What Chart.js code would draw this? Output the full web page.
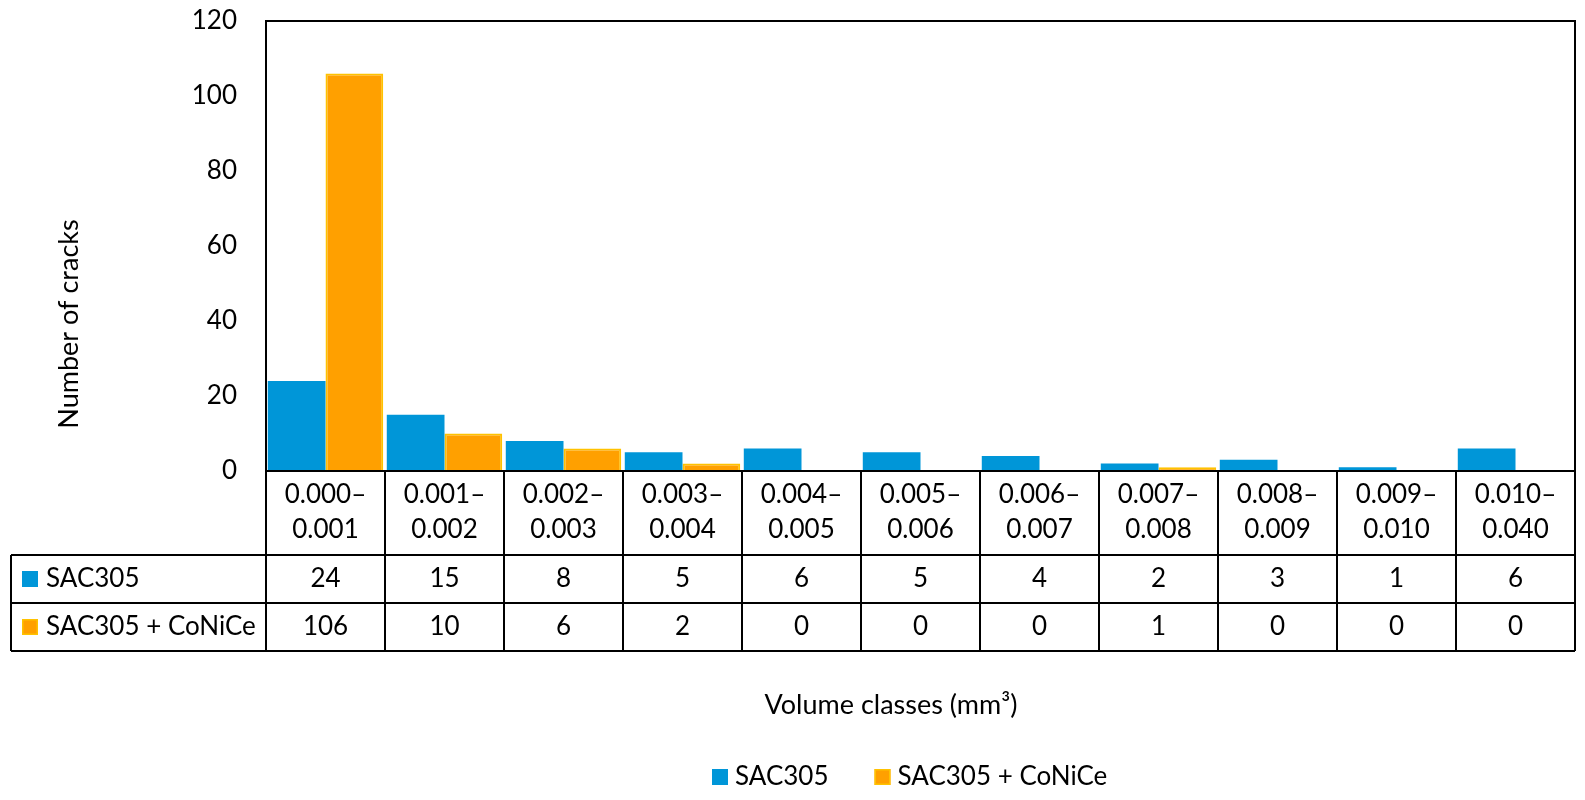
<!DOCTYPE html>
<html>
<head>
<meta charset="utf-8">
<script src="https://cdn.jsdelivr.net/npm/chart.js@4"></script>
<style>
  html, body { margin: 0; padding: 0; background: #fff; }
  #wrap { width: 1585px; height: 800px; }
</style>
</head>
<body>
<div id="wrap"><canvas id="chart"></canvas></div>
<script>
// volume classes, one column of the table each
var classes = [
    ['0.000–', '0.001'], ['0.001–', '0.002'], ['0.002–', '0.003'], ['0.003–', '0.004']
  , ['0.004–', '0.005'], ['0.005–', '0.006'], ['0.006–', '0.007'], ['0.007–', '0.008']
  , ['0.008–', '0.009'], ['0.009–', '0.010'], ['0.010–', '0.040']
]
var sac305       = [24, 15, 8, 5, 6, 5, 4, 2, 3, 1, 6]
var sac305CoNiCe = [106, 10, 6, 2, 0, 0, 0, 1, 0, 0, 0]
var yTicks = [0, 20, 40, 60, 80, 100, 120]
var seriesNames = ['SAC305', 'SAC305 + CoNiCe']
var xTitle = 'Volume classes (mm³)'
var yTitle = 'Number of cracks'

var blue = '#0096D8'
var orange = '#FFA000'
var orangeEdge = '#FFC200'
var FAMILY = 'Lato, "Liberation Sans", sans-serif'
var FONT = '26px ' + FAMILY
var TITLE_FONT = '27px ' + FAMILY

function swatch(ctx, i, x, y) {
  ctx.fillStyle = i === 0 ? blue : orange
  ctx.fillRect(x, y, 16, 16)
  if (i === 1) {
    ctx.strokeStyle = orangeEdge
    ctx.lineWidth = 1.5
    ctx.strokeRect(x + 0.75, y + 0.75, 14.5, 14.5)
  }
}

// frame round the plot, the data table under it, titles and legend
var tablePlugin = {
  id: 'dataTable',
  afterDraw: function(chart) {
    var ctx = chart.ctx
    var area = chart.chartArea
    var xs = chart.scales.x
    var colW = area.width / classes.length
    var rows = [area.bottom, area.bottom + 84, area.bottom + 132, area.bottom + 180]
    var tableLeft = 11
    var values = [sac305, sac305CoNiCe]

    ctx.save()
    ctx.strokeStyle = '#000'
    ctx.lineWidth = 2
    ctx.beginPath()
    // plot frame
    ctx.moveTo(area.left, rows[0]); ctx.lineTo(area.left, area.top)
    ctx.lineTo(area.right, area.top); ctx.lineTo(area.right, rows[3])
    // horizontal table lines
    ctx.moveTo(area.left, rows[0]); ctx.lineTo(area.right, rows[0])
    for (var r = 1; r < 4; r++) { ctx.moveTo(tableLeft, rows[r]); ctx.lineTo(area.right, rows[r]) }
    // vertical table lines
    ctx.moveTo(tableLeft, rows[1]); ctx.lineTo(tableLeft, rows[3])
    for (var c = 0; c < classes.length; c++) {
      var bx = xs.getPixelForValue(c) - colW / 2
      ctx.moveTo(bx, rows[0]); ctx.lineTo(bx, rows[3])
    }
    ctx.stroke()

    ctx.fillStyle = '#000'
    ctx.font = FONT
    ctx.textAlign = 'center'
    ctx.textBaseline = 'middle'
    classes.forEach(function(lbl, i) {
      var cx = xs.getPixelForValue(i)
      ctx.fillText(lbl[0], cx, rows[0] + 24)
      ctx.fillText(lbl[1], cx, rows[0] + 59)
      values.forEach(function(v, s) {
        ctx.fillText(String(v[i]), cx, (rows[s + 1] + rows[s + 2]) / 2)
      })
    })
    seriesNames.forEach(function(name, s) {
      var cy = (rows[s + 1] + rows[s + 2]) / 2
      swatch(ctx, s, 22, cy - 8)
      ctx.fillStyle = '#000'
      ctx.textAlign = 'left'
      ctx.fillText(name, 46, cy)
    })

    // axis titles
    ctx.font = TITLE_FONT
    ctx.textAlign = 'center'
    ctx.fillText(xTitle, 891, 705)
    ctx.save()
    ctx.translate(69, 324)
    ctx.rotate(-Math.PI / 2)
    ctx.fillText(yTitle, 0, 0)
    ctx.restore()

    // legend
    ctx.font = FONT
    ctx.textAlign = 'left'
    var lx = 712
    var ly = 777
    seriesNames.forEach(function(name, s) {
      swatch(ctx, s, lx, ly - 8)
      ctx.fillStyle = '#000'
      ctx.fillText(name, lx + 23, ly)
      lx += 23 + ctx.measureText(name).width + 46
    })
    ctx.restore()
  }
}

new Chart(document.getElementById('chart'), {
  type: 'bar',
  data: {
    labels: classes,
    datasets: [
      { label: seriesNames[0], data: sac305, backgroundColor: blue, borderWidth: 0 },
      { label: seriesNames[1], data: sac305CoNiCe, backgroundColor: orange,
        borderColor: orangeEdge, borderWidth: 2 }
    ]
  },
  options: {
    responsive: true,
    maintainAspectRatio: false,
    animation: false,
    datasets: { bar: { categoryPercentage: 0.97, barPercentage: 1.0 } },
    layout: { padding: { top: 21, right: 10, bottom: 329, left: 10 } },
    plugins: { legend: { display: false }, tooltip: { enabled: false } },
    scales: {
      x: { display: false },
      y: {
        min: 0, max: 120,
        afterFit: function(s) { s.width = 256; s.paddingTop = 14; s.paddingBottom = 14 },
        afterBuildTicks: function(s) { s.ticks = yTicks.map(function(v) { return { value: v } }) },
        grid: { display: false, drawTicks: false },
        border: { display: true, color: '#000', width: 2 },
        ticks: { padding: 29, color: '#000', font: { family: FAMILY, size: 26 } }
      }
    }
  },
  plugins: [tablePlugin]
})
</script>
</body>
</html>
